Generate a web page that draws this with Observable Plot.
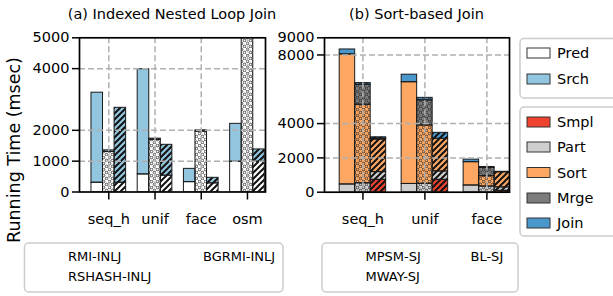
<!DOCTYPE html>
<html>
<head>
<meta charset="utf-8">
<script src="https://cdn.jsdelivr.net/npm/d3@7"></script>
<script src="https://cdn.jsdelivr.net/npm/@observablehq/plot@0.6"></script>
<style>
  html, body { margin: 0; padding: 0; background: #fff; }
  #wrap { position: relative; width: 613px; height: 296px; overflow: hidden; font-family: "DejaVu Sans", sans-serif; }
  #wrap > svg, #wrap > div { position: absolute; }
</style>
</head>
<body>
<div id="wrap"></div>
<script>
// ---------- data ----------
const leftCats = ["seq_h", "unif", "face", "osm"];
const leftMethods = ["RMI-INLJ", "RSHASH-INLJ", "BGRMI-INLJ"];
const leftPred = [[300, 570, 320, 980], [1300, 1690, 1960, 5500], [300, 530, 280, 980]];
const leftSrch = [[2920, 3410, 430, 1230], [50, 40, 40, 100], [2430, 1000, 180, 400]];
const leftPhases = ["Pred", "Srch"];
const leftYTicks = [0, 1000, 2000, 4000, 5000];

const rightCats = ["seq_h", "unif", "face"];
const rightMethods = ["MPSM-SJ", "MWAY-SJ", "BL-SJ"];
const rightPhases = ["Smpl", "Part", "Sort", "Mrge", "Join"];
const smpl = [[0, 0, 0], [0, 0, 0], [720, 720, 80]];
const part = [[450, 480, 390], [520, 490, 330], [450, 490, 200]];
const sort = [[7580, 5930, 1360], [4580, 3400, 600], [1900, 1900, 880]];
const mrge = [[0, 0, 0], [1160, 1460, 480], [50, 0, 0]];
const join = [[290, 440, 150], [100, 150, 60], [80, 350, 30]];
const rightYTicks = [0, 2000, 4000, 8000, 9000];

const phaseColors = {
  Pred: "#ffffff", Srch: "#92c5de",
  Smpl: "#ef432f", Part: "#cfcfcf", Sort: "#fda762", Mrge: "#7c7c7c", Join: "#4a97cc"
};

// ---------- helpers ----------
const wrap = document.getElementById("wrap");
const NS = "http://www.w3.org/2000/svg";

// pattern definitions (hatches)
const defsSvg = document.createElementNS(NS, "svg");
defsSvg.setAttribute("width", 0); defsSvg.setAttribute("height", 0);
defsSvg.style.position = "absolute";
defsSvg.innerHTML = `
<defs>
  <pattern id="dots" patternUnits="userSpaceOnUse" width="6" height="6">
    <circle cx="1.5" cy="1.5" r="1.3" fill="none" stroke="#222" stroke-width="0.8"/>
    <circle cx="4.5" cy="4.5" r="1.3" fill="none" stroke="#222" stroke-width="0.8"/>
  </pattern>
  <pattern id="hatch" patternUnits="userSpaceOnUse" width="6" height="6">
    <path d="M-1,7 L7,-1 M-4,4 L4,-4 M2,10 L10,2" stroke="#111" stroke-width="2"/>
  </pattern>
</defs>`;
wrap.appendChild(defsSvg);

function buildRows(cats, methods, phases, valuesByPhase) {
  const rows = [];
  methods.forEach((m, j) => {
    cats.forEach((c, i) => {
      let acc = 0;
      phases.forEach((p, k) => {
        const v = valuesByPhase[k][j][i];
        if (v > 0) {
          const center = i + (j - 1) * 0.25;
          rows.push({ cat: c, method: m, phase: p, j, x1: center - 0.125, x2: center + 0.125, y1: acc, y2: acc + v, color: phaseColors[p] });
        }
        acc += v;
      });
    });
  });
  return rows;
}

function panel({ rows, cats, yDomain, yTicks, gridTicks, xDomain, width, height, mL, mR, mT, mB }) {
  const gridStyle = { stroke: "#b0b0b0", strokeOpacity: 1, strokeWidth: 1.5, strokeDasharray: "6,3" };
  const idx = cats.map((c, i) => i);
  return Plot.plot({
    width, height,
    marginLeft: mL, marginRight: mR, marginTop: mT, marginBottom: mB,
    style: { fontFamily: "DejaVu Sans", fontSize: "14.5px", color: "#000", background: "transparent", overflow: "visible" },
    x: { domain: xDomain, axis: null },
    y: { domain: yDomain, axis: null },
    marks: [
      Plot.rect(rows, { x1: "x1", x2: "x2", y1: "y1", y2: "y2", fill: "color", clip: true }),
      Plot.rect(rows.filter(d => d.j === 1), { x1: "x1", x2: "x2", y1: "y1", y2: "y2", fill: "url(#dots)", clip: true }),
      Plot.rect(rows.filter(d => d.j === 2), { x1: "x1", x2: "x2", y1: "y1", y2: "y2", fill: "url(#hatch)", clip: true }),
      Plot.rect(rows, { x1: "x1", x2: "x2", y1: "y1", y2: "y2", fill: "none", stroke: "#1a1a1a", strokeWidth: 1, clip: true }),
      Plot.gridY(gridTicks, gridStyle),
      Plot.gridX(idx, gridStyle),
      Plot.axisY(yTicks, { tickSize: 7, tickPadding: 3, strokeWidth: 1.5, tickFormat: d => String(d), fontSize: 14.5 }),
      Plot.axisX(idx, { tickSize: 8, tickPadding: 14, strokeWidth: 1.5, tickFormat: i => cats[i], fontSize: 14.5 }),
      Plot.frame({ stroke: "#000", strokeWidth: 1.7 })
    ]
  });
}

// ---------- left panel ----------
const leftRows = buildRows(leftCats, leftMethods, leftPhases, [leftPred, leftSrch]);
const leftPlot = panel({
  rows: leftRows, cats: leftCats, yDomain: [0, 5000], yTicks: leftYTicks, gridTicks: [1000, 2000, 4000],
  xDomain: [-0.634, 3.39], width: 270, height: 240, mL: 79, mR: 5, mT: 37.3, mB: 48.5
});
leftPlot.style.left = "0px"; leftPlot.style.top = "0px";
wrap.appendChild(leftPlot);

// ---------- right panel ----------
const rightRows = buildRows(rightCats, rightMethods, rightPhases, [smpl, part, sort, mrge, join]);
const rightPlot = panel({
  rows: rightRows, cats: rightCats, yDomain: [0, 9000], yTicks: rightYTicks, gridTicks: [2000, 4000, 8000],
  xDomain: [-0.62, 2.365], width: 255, height: 240, mL: 64, mR: 6, mT: 37.3, mB: 48.3
});
rightPlot.style.left = "260px"; rightPlot.style.top = "0px";
wrap.appendChild(rightPlot);

// ---------- annotations: titles, y label, legends ----------
const ov = document.createElementNS(NS, "svg");
ov.setAttribute("width", 613); ov.setAttribute("height", 296);
ov.style.position = "absolute"; ov.style.left = "0px"; ov.style.top = "0px"; ov.style.pointerEvents = "none";
ov.setAttribute("font-family", "DejaVu Sans");
function txt(x, y, s, size, anchor = "start", extra = "") {
  const t = document.createElementNS(NS, "text");
  t.setAttribute("x", x); t.setAttribute("y", y);
  t.setAttribute("font-size", size); t.setAttribute("text-anchor", anchor);
  t.setAttribute("fill", "#000");
  if (extra) t.setAttribute("transform", extra);
  t.textContent = s;
  ov.appendChild(t);
  return t;
}
function box(x, y, w, h) {
  const r = document.createElementNS(NS, "rect");
  r.setAttribute("x", x); r.setAttribute("y", y); r.setAttribute("width", w); r.setAttribute("height", h);
  r.setAttribute("rx", 4); r.setAttribute("fill", "#fff"); r.setAttribute("fill-opacity", 0.8);
  r.setAttribute("stroke", "#cccccc"); r.setAttribute("stroke-width", 1.5);
  ov.appendChild(r);
}
function patch(x, y, color) {
  const r = document.createElementNS(NS, "rect");
  r.setAttribute("x", x); r.setAttribute("y", y); r.setAttribute("width", 23); r.setAttribute("height", 10);
  r.setAttribute("fill", color); r.setAttribute("stroke", "#333"); r.setAttribute("stroke-width", 1);
  ov.appendChild(r);
}

txt(172, 19, "(a) Indexed Nested Loop Join", 14.5, "middle");
txt(416.5, 19, "(b) Sort-based Join", 14.5, "middle");
txt(0, 0, "Running Time (msec)", 17.5, "middle", "translate(20,150) rotate(-90)");

// phase legends (right)
box(520, 38.5, 100, 59.5);
box(520, 107, 100, 129);
const legRows = [["Pred", 53], ["Srch", 79], ["Smpl", 122], ["Part", 147], ["Sort", 172.5], ["Mrge", 198], ["Join", 223]];
legRows.forEach(([p, cy]) => {
  patch(527, cy - 5, phaseColors[p]);
  txt(557, cy + 5, p, 14.5);
});

// method legends (bottom)
box(24.5, 243, 258.5, 49);
txt(68, 260.5, leftMethods[0], 13);
txt(68, 280.5, leftMethods[1], 13);
txt(203, 260.5, leftMethods[2], 13);
box(322, 243, 196, 49);
txt(365.5, 260.5, rightMethods[0], 13);
txt(365.5, 280.5, rightMethods[1], 13);
txt(470.5, 260.5, rightMethods[2], 13);

wrap.appendChild(ov);
</script>
</body>
</html>
